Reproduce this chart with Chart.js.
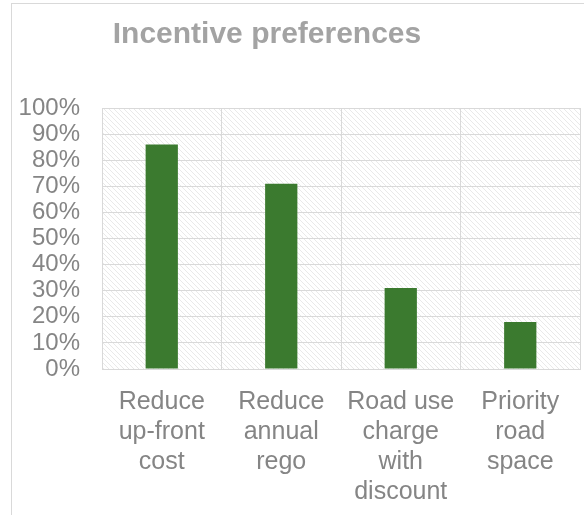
<!DOCTYPE html>
<html>
<head>
<meta charset="utf-8">
<script src="https://cdn.jsdelivr.net/npm/chart.js@4"></script>
<style>
  html, body { margin: 0; padding: 0; background: #ffffff; }
  #wrap { width: 584px; height: 515px; }
</style>
</head>
<body>
<div id="wrap"><canvas id="chart" width="584" height="515"></canvas></div>
<script>
// chart values
const chartTitle = 'Incentive preferences';
const categories = [
    ['Reduce', 'up-front', 'cost'],
    ['Reduce', 'annual', 'rego'],
    ['Road use', 'charge', 'with', 'discount'],
    ['Priority', 'road', 'space']
];
const shares = [86, 71, 31, 18];
const yTicks = [0, 10, 20, 30, 40, 50, 60, 70, 80, 90, 100];

const textGrey = '#858585';
const gridGrey = '#d9d9d9';

// light diagonal hatch behind the plot area
const makeHatch = () => {
    const c = document.createElement('canvas');
    c.width = 5;
    c.height = 5;
    const g = c.getContext('2d');
    g.fillStyle = '#ffffff';
    g.fillRect(0, 0, 5, 5);
    g.strokeStyle = '#e9e9e9';
    g.lineWidth = 1;
    g.beginPath();
    g.moveTo(0, 0); g.lineTo(5, 5);
    g.moveTo(-2.5, 2.5); g.lineTo(2.5, 7.5);
    g.moveTo(2.5, -2.5); g.lineTo(7.5, 2.5);
    g.stroke();
    return g.createPattern(c, 'repeat');
};

const backdrop = {
    id: 'backdrop',
    beforeDraw(chart) {
        const { ctx, chartArea } = chart;
        ctx.save();
        // outer chart frame
        ctx.strokeStyle = gridGrey;
        ctx.lineWidth = 1;
        ctx.strokeRect(11.5, 3.5, 700, 700);
        // hatched plot area
        ctx.fillStyle = makeHatch();
        ctx.fillRect(chartArea.left, chartArea.top, chartArea.right - chartArea.left, chartArea.bottom - chartArea.top);
        ctx.restore();
    },
    afterDraw(chart) {
        const { ctx } = chart;
        ctx.save();
        ctx.font = 'bold 30px "Liberation Sans", Arial, sans-serif';
        ctx.fillStyle = '#a3a3a3';
        ctx.textAlign = 'center';
        ctx.textBaseline = 'middle';
        ctx.fillText(chartTitle, 267, 35);
        ctx.restore();
    }
};

new Chart(document.getElementById('chart'), {
    type: 'bar',
    data: {
        labels: categories,
        datasets: [{
            data: shares,
            backgroundColor: '#3b7a2f',
            borderWidth: 0,
            categoryPercentage: 1,
            barPercentage: 0.27
        }]
    },
    options: {
        responsive: false,
        animation: false,
        layout: { padding: { top: 108, right: 4, left: 0, bottom: 0 } },
        plugins: {
            legend: { display: false },
            title: { display: false },
            tooltip: { enabled: false }
        },
        scales: {
            x: {
                grid: { color: gridGrey, drawTicks: false, offset: true },
                border: { color: gridGrey },
                ticks: {
                    color: textGrey,
                    padding: 18,
                    maxRotation: 0,
                    autoSkip: false,
                    font: { family: '"Liberation Sans", Arial, sans-serif', size: 25, lineHeight: 1.2 }
                },
                afterFit(scale) { scale.height = 146; }
            },
            y: {
                min: 0,
                max: 100,
                afterBuildTicks(scale) { scale.ticks = yTicks.map(v => ({ value: v })); },
                grid: { color: gridGrey, drawTicks: false },
                border: { color: gridGrey },
                ticks: {
                    color: textGrey,
                    padding: 22,
                    autoSkip: false,
                    callback: v => v + '%',
                    font: { family: '"Liberation Sans", Arial, sans-serif', size: 24, lineHeight: 1 }
                },
                afterFit(scale) { scale.width = 102; }
            }
        }
    },
    plugins: [backdrop]
});
</script>
</body>
</html>
